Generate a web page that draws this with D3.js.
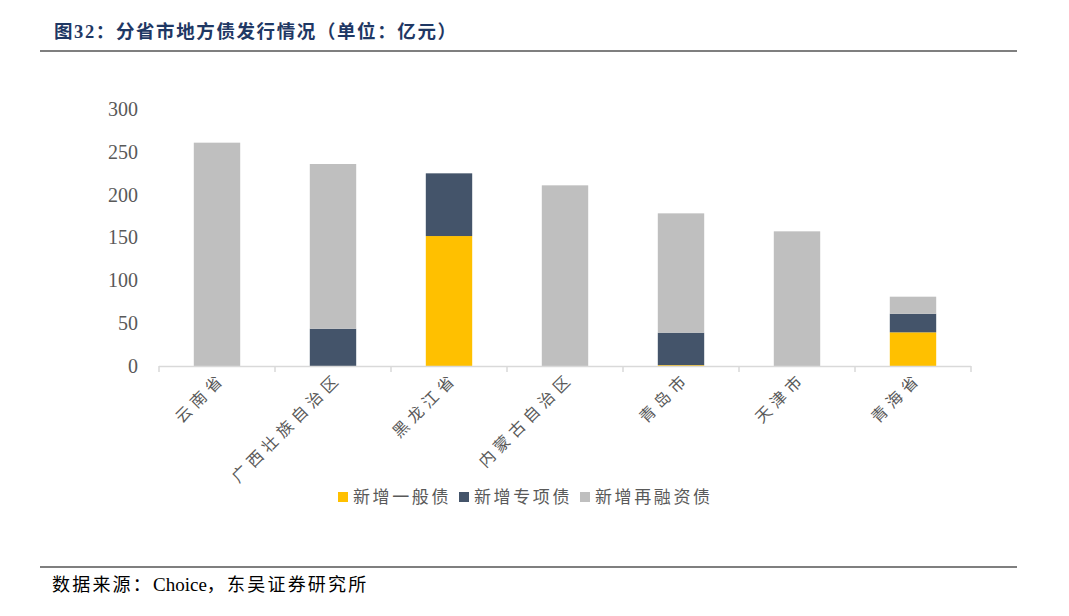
<!DOCTYPE html>
<html>
<head>
<meta charset="utf-8">
<style>
  body { margin: 0; background: #fff; }
  .ytick text { font-family: "Liberation Serif", "Times New Roman", serif; font-size: 20px; fill: #595959; }
  .xlab { font-family: "Noto Sans CJK SC", sans-serif; font-size: 16px; fill: #595959; letter-spacing: 5px; }
  .legend text { font-family: "Noto Sans CJK SC", sans-serif; font-size: 17px; fill: #595959; letter-spacing: 2.6px; }
</style>
</head>
<body>
<script src="https://cdn.jsdelivr.net/npm/d3@7/dist/d3.min.js"></script>
<script>
// data (亿元)
const regions = ["云南省", "广西壮族自治区", "黑龙江省", "内蒙古自治区", "青岛市", "天津市", "青海省"];
const newGeneral = [0, 0, 151.7, 0, 1, 0, 39.3];
const newSpecial = [0, 43.5, 73.2, 0, 37.9, 0, 21.7];
const refinance = [260.7, 192.3, 0, 210.9, 139.3, 157.2, 19.9];
const seriesNames = ["新增一般债", "新增专项债", "新增再融资债"];
const seriesColors = ["#FFC000", "#44546A", "#BFBFBF"];
const yTicks = [0, 50, 100, 150, 200, 250, 300];

const W = 1069, H = 616;
const plot = { left: 159, right: 971, top: 109, bottom: 366 };

const svg = d3.select("body").append("svg")
  .attr("width", W)
  .attr("height", H);

// title + rules
svg.append("text")
  .attr("x", 54).attr("y", 38)
  .attr("font-family", "Liberation Serif, Noto Sans CJK SC, serif")
  .attr("font-weight", "bold")
  .attr("font-size", 18.5)
  .attr("letter-spacing", 1.6)
  .attr("fill", "#1F3864")
  .text("图32：分省市地方债发行情况（单位：亿元）");

svg.append("line").attr("x1", 40).attr("x2", 1017).attr("y1", 51).attr("y2", 51)
  .attr("stroke", "#000").attr("stroke-width", 1.2);
svg.append("line").attr("x1", 40).attr("x2", 1017).attr("y1", 567).attr("y2", 567)
  .attr("stroke", "#000").attr("stroke-width", 1.2);

// source line: latin part in serif without extra spacing
const src = svg.append("text")
  .attr("x", 52).attr("y", 591)
  .attr("font-family", "Liberation Serif, Noto Sans CJK SC, serif")
  .attr("font-size", 18)
  .attr("fill", "#000");
src.append("tspan").attr("letter-spacing", 2.2).text("数据来源：");
src.append("tspan").attr("font-size", 19).text("Choice");
src.append("tspan").attr("letter-spacing", 2.2).text("，东吴证券研究所");

// scales
const x = d3.scaleBand().domain(regions).range([plot.left, plot.right]).paddingInner(0.6).paddingOuter(0.3);
const y = d3.scaleLinear().domain([0, 300]).range([plot.bottom, plot.top]);

// stack
const rows = regions.map((r, i) => ({ region: r, 新增一般债: newGeneral[i], 新增专项债: newSpecial[i], 新增再融资债: refinance[i] }));
const stacked = d3.stack().keys(seriesNames)(rows);

svg.append("g").selectAll("g")
  .data(stacked)
  .join("g")
  .attr("fill", (d, i) => seriesColors[i])
  .selectAll("rect")
  .data(d => d.filter(s => s[1] - s[0] > 0))
  .join("rect")
  .attr("x", d => x(d.data.region))
  .attr("width", x.bandwidth())
  .attr("y", d => y(d[1]))
  .attr("height", d => y(d[0]) - y(d[1]));

// y axis labels (no line)
const yAxis = svg.append("g")
  .attr("class", "ytick")
  .attr("transform", `translate(${plot.left - 21},0)`)
  .call(d3.axisLeft(y).tickValues(yTicks).tickSize(0).tickPadding(0));
yAxis.select(".domain").remove();
yAxis.selectAll("text").attr("font-family", null).attr("font-size", null);

// x axis line with ticks at category boundaries
const step = x.step();
const bounds = d3.range(regions.length + 1).map(i => plot.left + i * step);
const xAxis = svg.append("g");
xAxis.append("line")
  .attr("x1", plot.left).attr("x2", plot.right)
  .attr("y1", plot.bottom + 0.5).attr("y2", plot.bottom + 0.5)
  .attr("stroke", "#D9D9D9").attr("stroke-width", 1.5);
xAxis.selectAll(".bt")
  .data(bounds)
  .join("line")
  .attr("x1", d => d).attr("x2", d => d)
  .attr("y1", plot.bottom).attr("y2", plot.bottom + 6)
  .attr("stroke", "#D9D9D9").attr("stroke-width", 1.5);

// rotated category labels
svg.append("g").selectAll("text")
  .data(regions)
  .join("text")
  .attr("class", "xlab")
  .attr("text-anchor", "end")
  .attr("dx", 5)
  .attr("transform", d => `translate(${x(d) + x.bandwidth() / 2 + 6},${plot.bottom + 17}) rotate(-45)`)
  .text(d => d);

// legend
const legendX = [338, 459, 580];
const legend = svg.append("g").attr("class", "legend");
const items = legend.selectAll("g")
  .data(seriesNames)
  .join("g")
  .attr("transform", (d, i) => `translate(${legendX[i]},497)`);
items.append("rect")
  .attr("x", 0).attr("y", -5)
  .attr("width", 10).attr("height", 10)
  .attr("fill", (d, i) => seriesColors[i]);
items.append("text")
  .attr("x", 15).attr("y", 6)
  .text(d => d);
</script>
</body>
</html>
